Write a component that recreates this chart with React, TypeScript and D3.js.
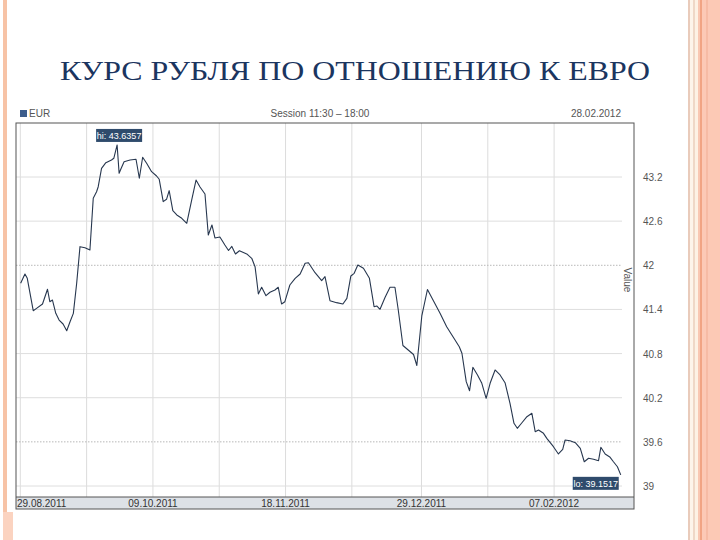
import React from "react";
import * as d3 from "d3";

const title = "КУРС РУБЛЯ ПО ОТНОШЕНИЮ К ЕВРО";
const seriesName = "EUR";
const sessionText = "Session  11:30 – 18:00";
const dateText = "28.02.2012";
const axisTitle = "Value";
const startDate = "2011-08-29";

// days since start date
const dayOffsets = [
  1.1, 2.4, 3.1, 4.9, 5.9, 7.7, 9.2, 9.9, 10.7, 11.7, 12.7, 13.9, 15.0, 16.0, 17.0, 18.0, 19.0, 20.5, 22.0, 23.0,
  24.0, 24.5, 25.5, 26.8, 28.5, 29.2, 30.2, 30.8, 31.3, 32.3, 34.1, 35.9, 36.9, 37.9, 39.1, 40.6, 42.1, 42.9, 44.1, 45.1,
  45.9, 47.0, 48.2, 49.7, 51.2, 52.7, 54.0, 55.2, 56.7, 57.7, 58.8, 59.7, 61.2, 62.7, 63.8, 64.8, 65.9, 67.1, 69.3, 70.8,
  71.8, 72.3, 72.8, 73.8, 75.1, 76.3, 77.8, 78.8, 79.8, 80.8, 82.3, 83.9, 85.4, 86.9, 87.9, 89.9, 91.9, 92.9, 94.4, 96.4,
  98.3, 99.5, 100.7, 101.7, 102.8, 104.5, 106.3, 107.7, 108.5, 109.5, 111.0, 112.5, 114.0, 115.0, 116.4, 118.0, 119.6, 120.6, 122.1, 123.8,
  125.6, 127.6, 129.6, 131.6, 133.4, 134.2, 135.5, 136.5, 137.5, 138.9, 140.2, 141.5, 142.7, 144.2, 145.7, 147.2, 148.7, 149.9, 150.9, 152.3,
  153.8, 155.3, 156.3, 157.3, 158.8, 159.8, 161.8, 163.3, 164.6, 165.3, 166.8, 168.4, 169.9, 171.1, 172.4, 173.9, 175.4, 176.1, 177.4, 178.9,
  179.9, 181.1, 182.1,
];
const rates = [
  41.755, 41.882, 41.823, 41.383, 41.415, 41.474, 41.674, 41.505, 41.528, 41.347, 41.256, 41.202, 41.111, 41.233, 41.347, 41.755, 42.253, 42.239, 42.208, 42.911,
  43.0, 43.068, 43.318, 43.395, 43.431, 43.454, 43.6357, 43.251, 43.305, 43.408, 43.431, 43.441, 43.183, 43.468, 43.386, 43.272, 43.214, 43.169, 42.865, 42.897,
  43.014, 42.742, 42.684, 42.639, 42.571, 42.888, 43.159, 43.064, 42.969, 42.412, 42.548, 42.371, 42.385, 42.276, 42.201, 42.256, 42.154, 42.198, 42.154, 42.095,
  41.981, 41.8, 41.61, 41.701, 41.587, 41.633, 41.664, 41.701, 41.474, 41.505, 41.732, 41.823, 41.882, 42.027, 42.035, 41.899, 41.791, 41.845, 41.519, 41.492,
  41.474, 41.551, 41.855, 41.891, 42.004, 41.959, 41.823, 41.437, 41.447, 41.402, 41.562, 41.701, 41.701, 41.392, 40.91, 40.849, 40.787, 40.638, 41.311, 41.671,
  41.517, 41.347, 41.165, 41.021, 40.893, 40.804, 40.418, 40.295, 40.613, 40.509, 40.396, 40.192, 40.396, 40.577, 40.509, 40.404, 40.124, 39.852, 39.784, 39.86,
  39.942, 39.988, 39.738, 39.761, 39.716, 39.648, 39.534, 39.435, 39.499, 39.625, 39.616, 39.589, 39.512, 39.33, 39.377, 39.363, 39.344, 39.526, 39.435, 39.39,
  39.33, 39.262, 39.1517,
];

const yTicks = [39, 39.6, 40.2, 40.8, 41.4, 42, 42.6, 43.2];
const yTickLabels = ["39", "39.6", "40.2", "40.8", "41.4", "42", "42.6", "43.2"];
const dottedTicks = [39.6, 42];
const gridDates = ["2011-08-30", "2011-09-19", "2011-10-09", "2011-10-29", "2011-11-18", "2011-12-08", "2011-12-29", "2012-01-18", "2012-02-07"];
const labelDates = ["2011-08-29", "2011-10-09", "2011-11-18", "2011-12-29", "2012-02-07"];
const labelTexts = ["29.08.2011", "09.10.2011", "18.11.2011", "29.12.2011", "07.02.2012"];

const DAY = 864e5;
const start = new Date(startDate + "T00:00:00");
const toDate = (o: number) => new Date(start.getTime() + o * DAY);
const parse = (s: string) => new Date(s + "T00:00:00");

export default function App() {
  const left = 16, right = 634, top = 123, plotBottom = 497, bandBottom = 509;
  const x = d3.scaleTime().domain([toDate(-0.3), toDate(186.1)]).range([left, right]);
  const y = d3.scaleLinear().domain([39, 43.2]).range([486, 177]);
  const pts = dayOffsets.map((o, i) => ({ d: toDate(o), v: rates[i] }));
  const line = d3.line<{ d: Date; v: number }>().x((p) => x(p.d)).y((p) => y(p.v));
  const maxI = d3.maxIndex(rates);
  const minI = d3.minIndex(rates);
  const hx = x(pts[maxI].d), hy = y(pts[maxI].v);
  const lx = x(pts[minI].d), ly = y(pts[minI].v);
  const font = "'Liberation Sans', Arial, sans-serif";

  return (
    <svg width={720} height={540} style={{ position: "absolute", left: 0, top: 0, background: "#fff" }}>
      <rect x={0} y={0} width={720} height={540} fill="#fff" />
      {/* slide decoration */}
      <rect x={3} y={0} width={4} height={512} fill="#f7c3a6" />
      <rect x={3} y={512} width={10} height={28} fill="#fbd3c0" />
      <rect x={688} y={0} width={2} height={540} fill="#e9cbbb" />
      <rect x={690} y={0} width={3} height={540} fill="#fdf5ea" />
      <rect x={693} y={0} width={2} height={540} fill="#efd8c6" />
      <rect x={695} y={0} width={3} height={540} fill="#fdf2e4" />
      <rect x={698} y={0} width={2} height={540} fill="#f9c8b2" />
      <rect x={700} y={0} width={2} height={540} fill="#f1a483" />
      <rect x={702} y={0} width={18} height={540} fill="#fcc9b5" />
      <rect x={706} y={0} width={2} height={540} fill="#f6bba4" />

      <text x={60} y={80} textLength={590} lengthAdjust="spacingAndGlyphs"
        fontFamily="'Liberation Serif', 'Times New Roman', serif" fontSize={28} fill="#1b355f">
        {title}
      </text>

      {/* header */}
      <rect x={20} y={110} width={7} height={7} fill="#3d5d8c" />
      <text x={29} y={117} fontFamily={font} fontSize={10} fill="#555">{seriesName}</text>
      <text x={320} y={117} textAnchor="middle" fontFamily={font} fontSize={10} fill="#555">{sessionText}</text>
      <text x={621} y={117} textAnchor="end" fontFamily={font} fontSize={10} fill="#555">{dateText}</text>

      {/* plot frame */}
      <rect x={left} y={top} width={right - left} height={bandBottom - top} fill="#fff" />
      {gridDates.map((g) => (
        <line key={g} x1={x(parse(g))} x2={x(parse(g))} y1={top} y2={plotBottom} stroke="#dcdcdc" strokeWidth={1} />
      ))}
      {yTicks.map((t) => (
        <line key={t} x1={left} x2={622} y1={y(t)} y2={y(t)}
          stroke={dottedTicks.includes(t) ? "#b8b8b8" : "#dedede"} strokeWidth={1}
          strokeDasharray={dottedTicks.includes(t) ? "1.5 1.5" : undefined} />
      ))}
      <path d={line(pts) || ""} fill="none" stroke="#27374f" strokeWidth={1.1} strokeLinejoin="round" />

      {/* hi / lo */}
      <rect x={hx - 21} y={hy - 16} width={46} height={13} fill="#2f4b6c" />
      <text x={hx + 2} y={hy - 6} textAnchor="middle" fontFamily={font} fontSize={9} fill="#fff">{`hi: ${rates[maxI].toFixed(4)}`}</text>
      <rect x={lx - 48} y={ly + 2} width={46} height={13} fill="#2f4b6c" />
      <text x={lx - 25} y={ly + 12} textAnchor="middle" fontFamily={font} fontSize={9} fill="#fff">{`lo: ${rates[minI].toFixed(4)}`}</text>

      {/* x band */}
      <rect x={left} y={plotBottom} width={right - left} height={bandBottom - plotBottom} fill="#dde1e6" />
      <line x1={left} x2={right} y1={plotBottom} y2={plotBottom} stroke="#555" />
      <rect x={left} y={top} width={right - left} height={bandBottom - top} fill="none" stroke="#555" strokeWidth={1} />
      {labelDates.map((d, i) => (
        <text key={d} x={i === 0 ? left + 1 : x(parse(d))} y={507} textAnchor={i === 0 ? "start" : "middle"}
          fontFamily={font} fontSize={10} fill="#333">{labelTexts[i]}</text>
      ))}

      {/* right axis */}
      {yTicks.map((t, i) => (
        <text key={t} x={643} y={y(t) + 4} fontFamily={font} fontSize={10} fill="#555">{yTickLabels[i]}</text>
      ))}
      <text transform={`translate(624, ${280}) rotate(90)`} textAnchor="middle" fontFamily={font} fontSize={10} fill="#555">{axisTitle}</text>
    </svg>
  );
}
